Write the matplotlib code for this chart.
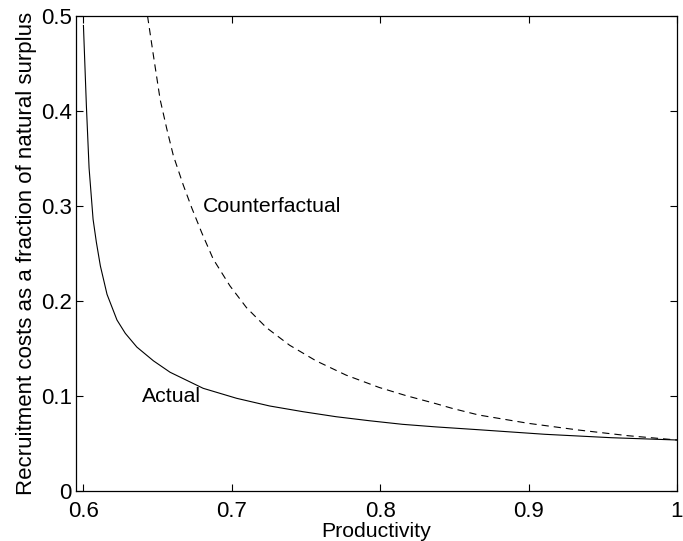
#!/usr/bin/env python3
import matplotlib
matplotlib.use("Agg")
import matplotlib.pyplot as plt

# values
actual_x = [0.600, 0.602, 0.6038, 0.6065, 0.6087, 0.6114, 0.6159, 0.6226,
            0.6282, 0.636, 0.6472, 0.6584, 0.6807, 0.7032, 0.7255, 0.7479,
            0.7703, 0.7926, 0.815, 0.8374, 0.8664, 0.911, 0.9559, 1.000]
actual_y = [0.490, 0.405, 0.340, 0.286, 0.262, 0.237, 0.207, 0.180,
            0.166, 0.1515, 0.137, 0.125, 0.1081, 0.0976, 0.0895, 0.0835,
            0.0782, 0.0740, 0.0702, 0.0675, 0.0645, 0.0597, 0.0561, 0.0537]

counter_x = [0.6432, 0.6472, 0.6517, 0.6562, 0.6606, 0.6673, 0.673, 0.6797,
             0.6875, 0.6987, 0.7099, 0.7233, 0.7389, 0.7568, 0.777, 0.7993,
             0.8172, 0.8374, 0.8485, 0.8664, 0.900, 0.9336, 0.9671, 1.000]
counter_y = [0.500, 0.458, 0.412, 0.381, 0.353, 0.322, 0.298, 0.272,
             0.244, 0.216, 0.193, 0.172, 0.1535, 0.137, 0.122, 0.109,
             0.1005, 0.092, 0.087, 0.080, 0.0712, 0.0642, 0.0582, 0.0537]

x_ticks = [0.6, 0.7, 0.8, 0.9, 1.0]
x_tick_labels = ["0.6", "0.7", "0.8", "0.9", "1"]
y_ticks = [0, 0.1, 0.2, 0.3, 0.4, 0.5]
y_tick_labels = ["0", "0.1", "0.2", "0.3", "0.4", "0.5"]

plt.rcParams['font.family'] = ['Liberation Sans', 'DejaVu Sans']

fig = plt.figure(figsize=(6.83, 5.41), dpi=100)
ax = fig.add_axes([0.1113, 0.0924, 0.8799, 0.878])

ax.plot(actual_x, actual_y, color='k', lw=0.8, solid_joinstyle='round')
ax.plot(counter_x, counter_y, color='k', lw=0.8, dashes=(6.5, 4.5))

ax.text(0.6805, 0.299, "Counterfactual", fontsize=15.3, va='center', ha='left')
ax.text(0.6396, 0.100, "Actual", fontsize=15.3, va='center', ha='left')

ax.set_xlim(0.595, 1.0)
ax.set_ylim(0, 0.5)
ax.set_xticks(x_ticks)
ax.set_xticklabels(x_tick_labels)
ax.set_yticks(y_ticks)
ax.set_yticklabels(y_tick_labels)
ax.tick_params(direction='in', length=5, width=0.8, top=True, right=True,
               labelsize=16)
ax.tick_params(axis='x', pad=7)
ax.tick_params(axis='y', pad=3)
for s in ax.spines.values():
    s.set_linewidth(0.9)

ax.set_xlabel("Productivity", fontsize=15.3, labelpad=0)
ax.set_ylabel("Recruitment costs as a fraction of natural surplus",
              fontsize=16, labelpad=3)

fig.savefig("out.png", dpi=100)
